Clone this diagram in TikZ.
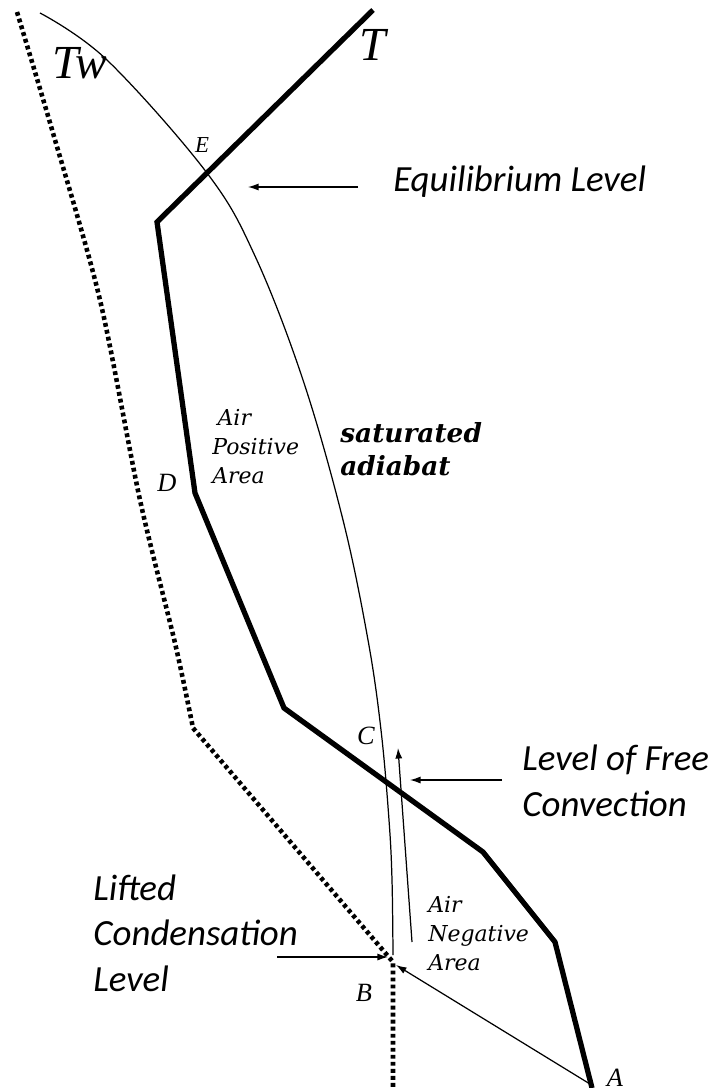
\documentclass[tikz,border=0pt]{standalone}
\usepackage{fontspec}
\setmainfont{Liberation Serif}
\newfontfamily\slabfont{DejaVu Serif}
\newfontfamily\calloutfont{Carlito}
\usetikzlibrary{arrows.meta}

\begin{document}
\begin{tikzpicture}[x=0.02cm,y=-0.02cm,
  temp/.style={line width=3pt,line join=miter},
  dewline/.style={line width=2.6pt,dash pattern=on 2.2pt off 1.8pt},
  thinline/.style={line width=0.7pt},
  pointer/.style={thinline,-{Latex[length=6pt,width=4pt]}},
  callout/.style={anchor=west,align=left,inner sep=0pt,font=\calloutfont\itshape\fontsize{21}{26}\selectfont},
  ptlabel/.style={inner sep=0pt,font=\itshape\fontsize{15}{15}\selectfont},
  arealabel/.style={anchor=west,align=left,inner sep=0pt,font=\slabfont\itshape\fontsize{12.5}{16.5}\selectfont}]
  \useasboundingbox (0,0) rectangle (713,1088);
  % sounding points
  \coordinate (A) at (590,1084);
  \coordinate (B) at (393,962);
  % environment temperature T
  \draw[temp] (373,10) -- (157,222) -- (195,493) -- (284,708) -- (483,852) -- (555,942) -- (592,1088);
  % wet-bulb Tw (dotted)
  \draw[dewline] plot[smooth] coordinates {(17,12) (53,133) (100,300) (140,500) (175,643) (193,728)} -- (B) -- (393,1088);
  % saturated adiabat from the LCL upwards
  \draw[thinline] plot[smooth,tension=0.6] coordinates {(40,13) (107,60) (207,173) (255,256) (303,380) (343,520) (368,640) (381,730) (389,820) (392,880) (393,955)};
  % dry lift A -> B
  \draw[pointer] (A) -- ([shift={(3,3)}]B);
  % parcel rising past the LFC
  \coordinate (riseFoot) at (412,942);
  \coordinate (riseTop) at (398,748);
  \draw[pointer] (riseFoot) -- (riseTop);
  % curve labels
  \node[inner sep=0pt,font=\itshape\fontsize{27}{27}\selectfont] (lblTw) at (80,63) {Tw};
  \node[inner sep=0pt,font=\itshape\fontsize{27}{27}\selectfont] (lblT) at (373,45) {T};
  \node[ptlabel,font=\itshape\fontsize{13}{13}\selectfont] (ptE) at (202,145) {E};
  \node[ptlabel] (ptD) at (167,483) {D};
  \node[ptlabel] (ptC) at (366,736) {C};
  \node[ptlabel] (ptB) at (364,993) {B};
  \node[ptlabel] (ptA) at (615,1078) {A};
  \node[arealabel] (posarea) at (212,447) {\hspace{3pt}Air\\Positive\\Area};
  \node[arealabel] (negarea) at (428,934) {Air\\Negative\\Area};
  \node[arealabel,font=\slabfont\bfseries\itshape\fontsize{15}{19}\selectfont] (satadiabat) at (340,449) {saturated\\adiabat};
  % level callouts
  \node[callout] (eqlvl) at (393,182) {Equilibrium Level};
  \node[callout] (lfc) at (522,781) {Level of Free\\Convection};
  \node[callout] (lcl) at (93,933) {Lifted\\Condensation\\Level};
  \coordinate (elTail) at (358,187);
  \coordinate (elTip) at (248,187);
  \draw[pointer] (elTail) -- (elTip);
  \coordinate (lfcTail) at (502,780);
  \coordinate (lfcTip) at (410,780);
  \draw[pointer] (lfcTail) -- (lfcTip);
  \coordinate (lclTail) at (277,957);
  \coordinate (lclTip) at (388,957);
  \draw[pointer] (lclTail) -- (lclTip);
\end{tikzpicture}
\end{document}
